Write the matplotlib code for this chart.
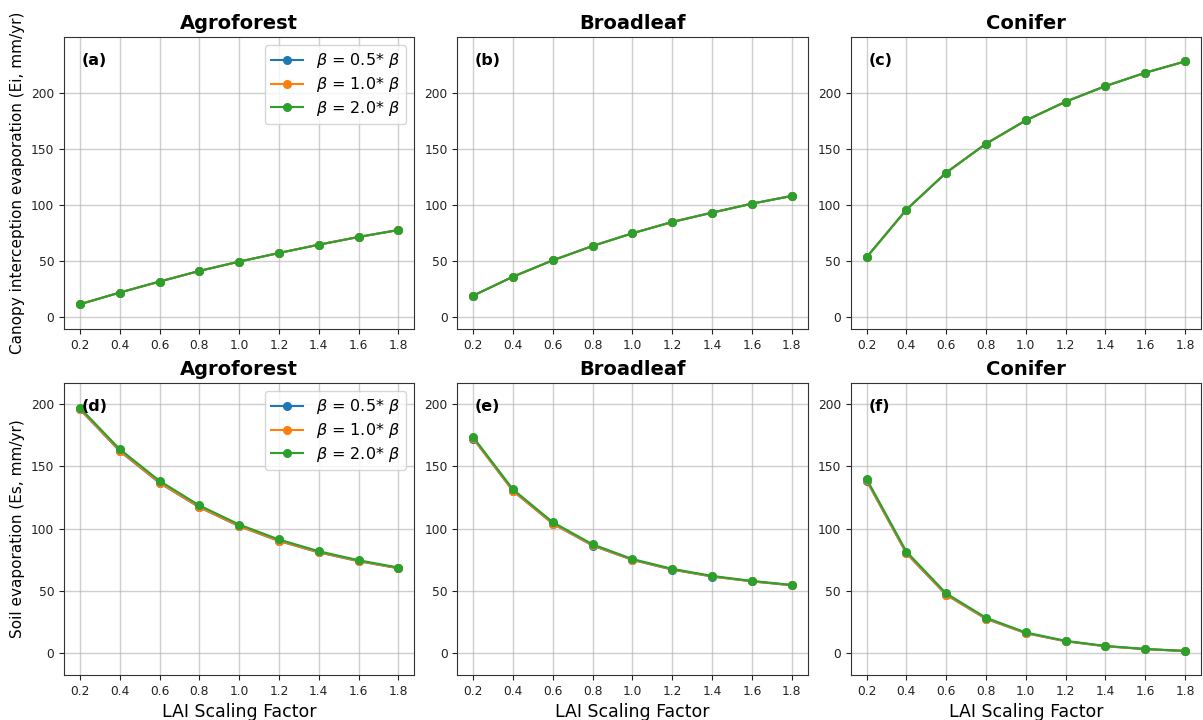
import matplotlib
matplotlib.use("Agg")
import matplotlib.pyplot as plt

lai = [0.2, 0.4, 0.6, 0.8, 1.0, 1.2, 1.4, 1.6, 1.8]
lai_ticks = ["0.2", "0.4", "0.6", "0.8", "1.0", "1.2", "1.4", "1.6", "1.8"]
forests = ["Agroforest", "Broadleaf", "Conifer"]
beta_labels = [r"$\beta$ = 0.5* $\beta$", r"$\beta$ = 1.0* $\beta$", r"$\beta$ = 2.0* $\beta$"]
colors = ["#1f77b4", "#ff7f0e", "#2ca02c"]

# canopy interception evaporation (Ei, mm/yr), same for every beta
ei_agro = [11.6, 22.0, 31.8, 41.3, 49.6, 57.3, 64.7, 71.6, 77.8]
ei_broad = [19.3, 36.2, 50.8, 63.6, 74.9, 85.0, 93.3, 101.3, 108.2]
ei_conif = [53.5, 96.0, 129.0, 154.8, 175.6, 192.3, 206.2, 218.1, 228.2]

# soil evaporation (Es, mm/yr) for beta x0.5, x1.0, x2.0
es_agro_05 = [195.5, 162.0, 136.5, 117.0, 101.8, 90.0, 80.8, 73.8, 68.1]
es_agro_10 = [195.8, 162.4, 136.8, 117.2, 102.0, 90.2, 81.0, 74.0, 68.2]
es_agro_20 = [196.8, 163.6, 138.2, 118.5, 103.2, 91.2, 81.8, 74.6, 68.7]
es_broad_05 = [172.0, 130.0, 103.8, 86.3, 74.8, 67.0, 61.5, 57.6, 54.5]
es_broad_10 = [172.2, 130.2, 104.0, 86.5, 75.0, 67.2, 61.6, 57.7, 54.6]
es_broad_20 = [173.2, 131.3, 105.0, 87.3, 75.5, 67.7, 62.0, 58.0, 54.8]
es_conif_05 = [138.3, 80.0, 46.8, 27.6, 16.1, 9.6, 5.6, 3.3, 1.8]
es_conif_10 = [138.6, 80.3, 47.0, 27.8, 16.2, 9.7, 5.7, 3.4, 1.8]
es_conif_20 = [139.8, 81.5, 48.0, 28.5, 16.7, 10.0, 5.9, 3.5, 1.9]

top_data = [
    [ei_agro, ei_agro, ei_agro],
    [ei_broad, ei_broad, ei_broad],
    [ei_conif, ei_conif, ei_conif],
]
bottom_data = [
    [es_agro_05, es_agro_10, es_agro_20],
    [es_broad_05, es_broad_10, es_broad_20],
    [es_conif_05, es_conif_10, es_conif_20],
]
panel_letters = ["(a)", "(b)", "(c)", "(d)", "(e)", "(f)"]

fig, axes = plt.subplots(2, 3, figsize=(12.03, 7.2), dpi=100)
fig.subplots_adjust(left=0.0532, right=0.9983, top=0.9486, bottom=0.0625,
                    wspace=0.123, hspace=0.185)

for row, (data, ylim) in enumerate([(top_data, (-10.5, 250)), (bottom_data, (-17.4, 216.6))]):
    for col in range(3):
        ax = axes[row, col]
        for k in range(3):
            ax.plot(lai, data[col][k], marker="o", markersize=5.5, linewidth=1.5,
                    color=colors[k], label=beta_labels[k])
        ax.set_title(forests[col], fontsize=14, fontweight="bold")
        ax.set_ylim(*ylim)
        ax.set_yticks([0, 50, 100, 150, 200])
        ax.set_xticks(lai)
        ax.set_xticklabels(lai_ticks)
        ax.tick_params(labelsize=8.8, colors="#222222")
        for sp in ax.spines.values():
            sp.set_color("#333333")
        ax.grid(True, alpha=0.6, linewidth=1.0)
        ax.text(0.05, 0.918, panel_letters[row * 3 + col], transform=ax.transAxes,
                fontsize=11.5, fontweight="bold", va="center")
        if row == 1:
            ax.set_xlabel("LAI Scaling Factor", fontsize=12.5)
        if col == 0:
            ax.legend(loc="upper right", fontsize=11.5, labelspacing=0.3)

axes[0, 0].set_ylabel("Canopy interception evaporation (Ei, mm/yr)", fontsize=11)
axes[1, 0].set_ylabel("Soil evaporation (Es, mm/yr)", fontsize=11)

plt.savefig("out.png")
